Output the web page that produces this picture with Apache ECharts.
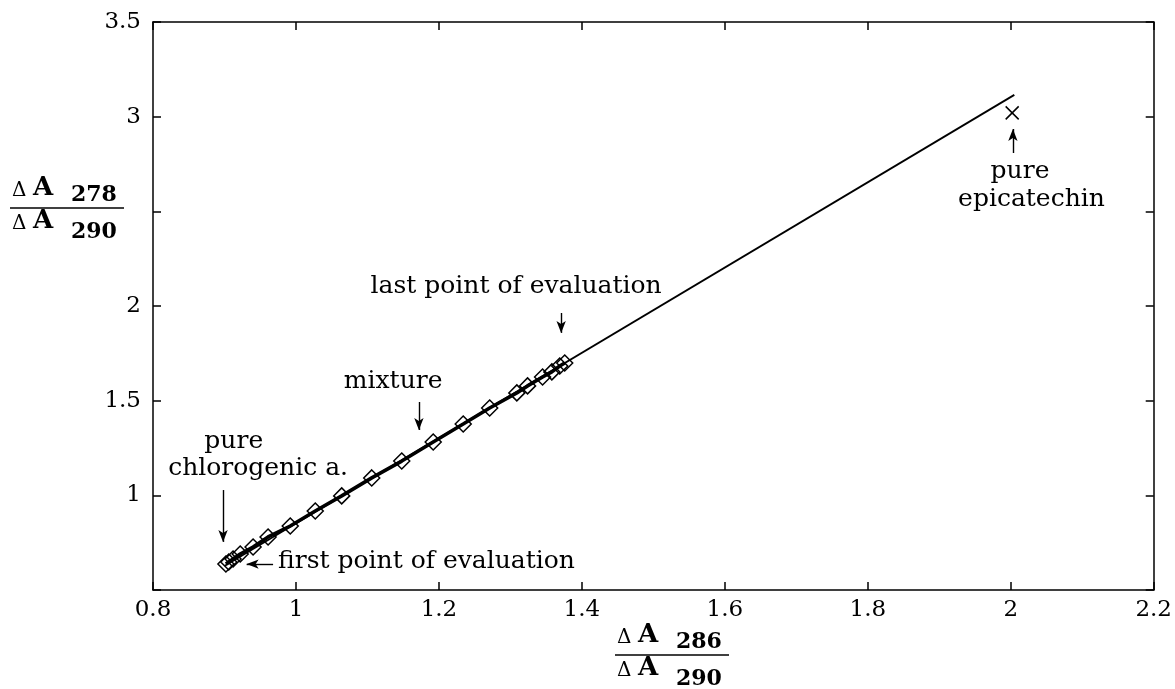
<!DOCTYPE html>
<html>
<head>
<meta charset="utf-8">
<script src="https://cdn.jsdelivr.net/npm/echarts@6/dist/echarts.min.js"></script>
<style>
html,body{margin:0;padding:0;background:#fff}
#chart{width:1175px;height:689px}
</style>
</head>
<body>
<div id="chart"></div>
<script>
// measured mixtures (dA286/dA290 , dA278/dA290)
var mixX = [0.902, 0.906, 0.912, 0.922, 0.940, 0.961, 0.992, 1.027, 1.064, 1.106,
            1.148, 1.192, 1.234, 1.271, 1.309, 1.324, 1.345, 1.358, 1.369, 1.376];
var mixY = [0.637, 0.648, 0.664, 0.690, 0.727, 0.780, 0.838, 0.917, 0.997, 1.092,
            1.181, 1.282, 1.377, 1.461, 1.541, 1.578, 1.625, 1.652, 1.683, 1.699];
// regression line end points
var fitX = [0.9, 2.005];
var fitY = [0.627, 3.115];
// pure epicatechin
var epiX = [2.002];
var epiY = [3.02];

var xTicks = [0.8, 1, 1.2, 1.4, 1.6, 1.8, 2, 2.2];
var yTicks = [0.5, 1, 1.5, 2, 2.5, 3, 3.5];
var yHidden = [0.5, 2.5];

// annotations
var noteText = ['pure', 'chlorogenic a.', 'first point of evaluation', 'mixture',
                'last point of evaluation', 'pure', 'epicatechin'];
var noteX = [0.913, 0.947, 0.975, 1.136, 1.308, 2.013, 2.029];
var noteY = [1.282, 1.144, 0.648, 1.599, 2.101, 2.708, 2.560];
var noteAlign = ['center', 'center', 'left', 'center', 'center', 'center', 'center'];
var arrowFrom = [[0.898, 1.028], [0.968, 0.637], [1.172, 1.493], [1.371, 1.963], [2.003, 2.808]];
var arrowTo = [[0.898, 0.754], [0.931, 0.637], [1.172, 1.345], [1.371, 1.858], [2.003, 2.935]];

var FONT = '"DejaVu Serif", serif';

function pairs(xs, ys) {
    var out = [];
    for (var i = 0; i < xs.length; i++) out.push([xs[i], ys[i]]);
    return out;
}
function fmt(v) {
    return String(Number(v.toFixed(2)));
}

var myChart = echarts.init(document.getElementById('chart'));

var axisLine = {show: true, lineStyle: {color: '#000', width: 1.5}};
var axisTick = {show: true, inside: true, length: 8, lineStyle: {color: '#000', width: 1.5}};

var notes = [];
for (var i = 0; i < noteText.length; i++) {
    notes.push({
        value: [noteX[i], noteY[i]],
        name: noteText[i],
        label: {align: noteAlign[i]}
    });
}
var arrows = [];
for (var j = 0; j < arrowFrom.length; j++) {
    arrows.push([{coord: arrowFrom[j]}, {coord: arrowTo[j]}]);
}

function frac(x, y, num) {
    // a stacked  ΔA num / ΔA 290  label
    return [
        {type: 'text', left: x, top: y + 1, style: {text: '\u0394', font: '20px ' + FONT, fill: '#000'}},
        {type: 'text', left: x + 21, top: y - 5, style: {text: 'A', font: 'bold 26px ' + FONT, fill: '#000'}},
        {type: 'text', left: x + 59, top: y + 4, style: {text: num, font: 'bold 22px ' + FONT, fill: '#000'}},
        {type: 'line', shape: {x1: x - 2, y1: y + 28, x2: x + 112, y2: y + 28}, style: {stroke: '#000', lineWidth: 1.5}},
        {type: 'text', left: x, top: y + 34, style: {text: '\u0394', font: '20px ' + FONT, fill: '#000'}},
        {type: 'text', left: x + 21, top: y + 28, style: {text: 'A', font: 'bold 26px ' + FONT, fill: '#000'}},
        {type: 'text', left: x + 59, top: y + 41, style: {text: '290', font: 'bold 22px ' + FONT, fill: '#000'}}
    ];
}

var option = {
    animation: false,
    backgroundColor: '#fff',
    textStyle: {fontFamily: FONT},
    grid: {left: 153, right: 21, top: 22, bottom: 99},
    xAxis: [{
        type: 'value', min: 0.8, max: 2.2, interval: 0.2, position: 'bottom',
        axisLine: axisLine, axisTick: axisTick, splitLine: {show: false},
        axisLabel: {color: '#000', fontSize: 23, fontFamily: FONT, margin: 9, formatter: fmt}
    }, {
        type: 'value', min: 0.8, max: 2.2, interval: 0.2, position: 'top',
        axisLine: axisLine, axisTick: axisTick, splitLine: {show: false},
        axisLabel: {show: false}
    }],
    yAxis: [{
        type: 'value', min: 0.5, max: 3.5, interval: 0.5, position: 'left',
        axisLine: axisLine, axisTick: axisTick, splitLine: {show: false},
        axisLabel: {
            color: '#000', fontSize: 23, fontFamily: FONT, margin: 12,
            formatter: function (v) {
                for (var k = 0; k < yHidden.length; k++) {
                    if (Math.abs(v - yHidden[k]) < 1e-6) return '';
                }
                return fmt(v);
            }
        }
    }, {
        type: 'value', min: 0.5, max: 3.5, interval: 0.5, position: 'right',
        axisLine: axisLine, axisTick: axisTick, splitLine: {show: false},
        axisLabel: {show: false}
    }],
    series: [
        {
            name: 'fit', type: 'line', data: pairs(fitX, fitY), symbol: 'none',
            lineStyle: {color: '#000', width: 1.8}, z: 2
        },
        {
            name: 'mixture line', type: 'line', data: pairs(mixX, mixY), symbol: 'none',
            lineStyle: {color: '#000', width: 3.6}, z: 2
        },
        {
            name: 'mixture', type: 'scatter', data: pairs(mixX, mixY),
            symbol: 'diamond', symbolSize: [16, 16],
            itemStyle: {color: 'rgba(0,0,0,0)', borderColor: '#000', borderWidth: 1.5, opacity: 1}, z: 3
        },
        {
            name: 'pure epicatechin', type: 'scatter', data: pairs(epiX, epiY),
            symbol: 'path://M0,0L10,10M10,0L0,10', symbolSize: 13,
            itemStyle: {color: 'rgba(0,0,0,0)', borderColor: '#000', borderWidth: 1.5, opacity: 1}, z: 3
        },
        {
            name: 'notes', type: 'scatter', data: notes, symbolSize: 0, silent: true,
            itemStyle: {opacity: 1},
            label: {
                show: true, position: 'inside', formatter: '{b}',
                color: '#000', fontSize: 25, fontFamily: FONT
            },
            markLine: {
                silent: true, symbol: ['none', 'arrow'], symbolSize: [7, 12],
                lineStyle: {color: '#000', width: 1.4, type: 'solid', opacity: 1},
                itemStyle: {color: '#000'},
                label: {show: false},
                data: arrows
            }
        }
    ],
    graphic: frac(12, 180, '278').concat(frac(617, 627, '286'))
};

myChart.setOption(option);
</script>
</body>
</html>
